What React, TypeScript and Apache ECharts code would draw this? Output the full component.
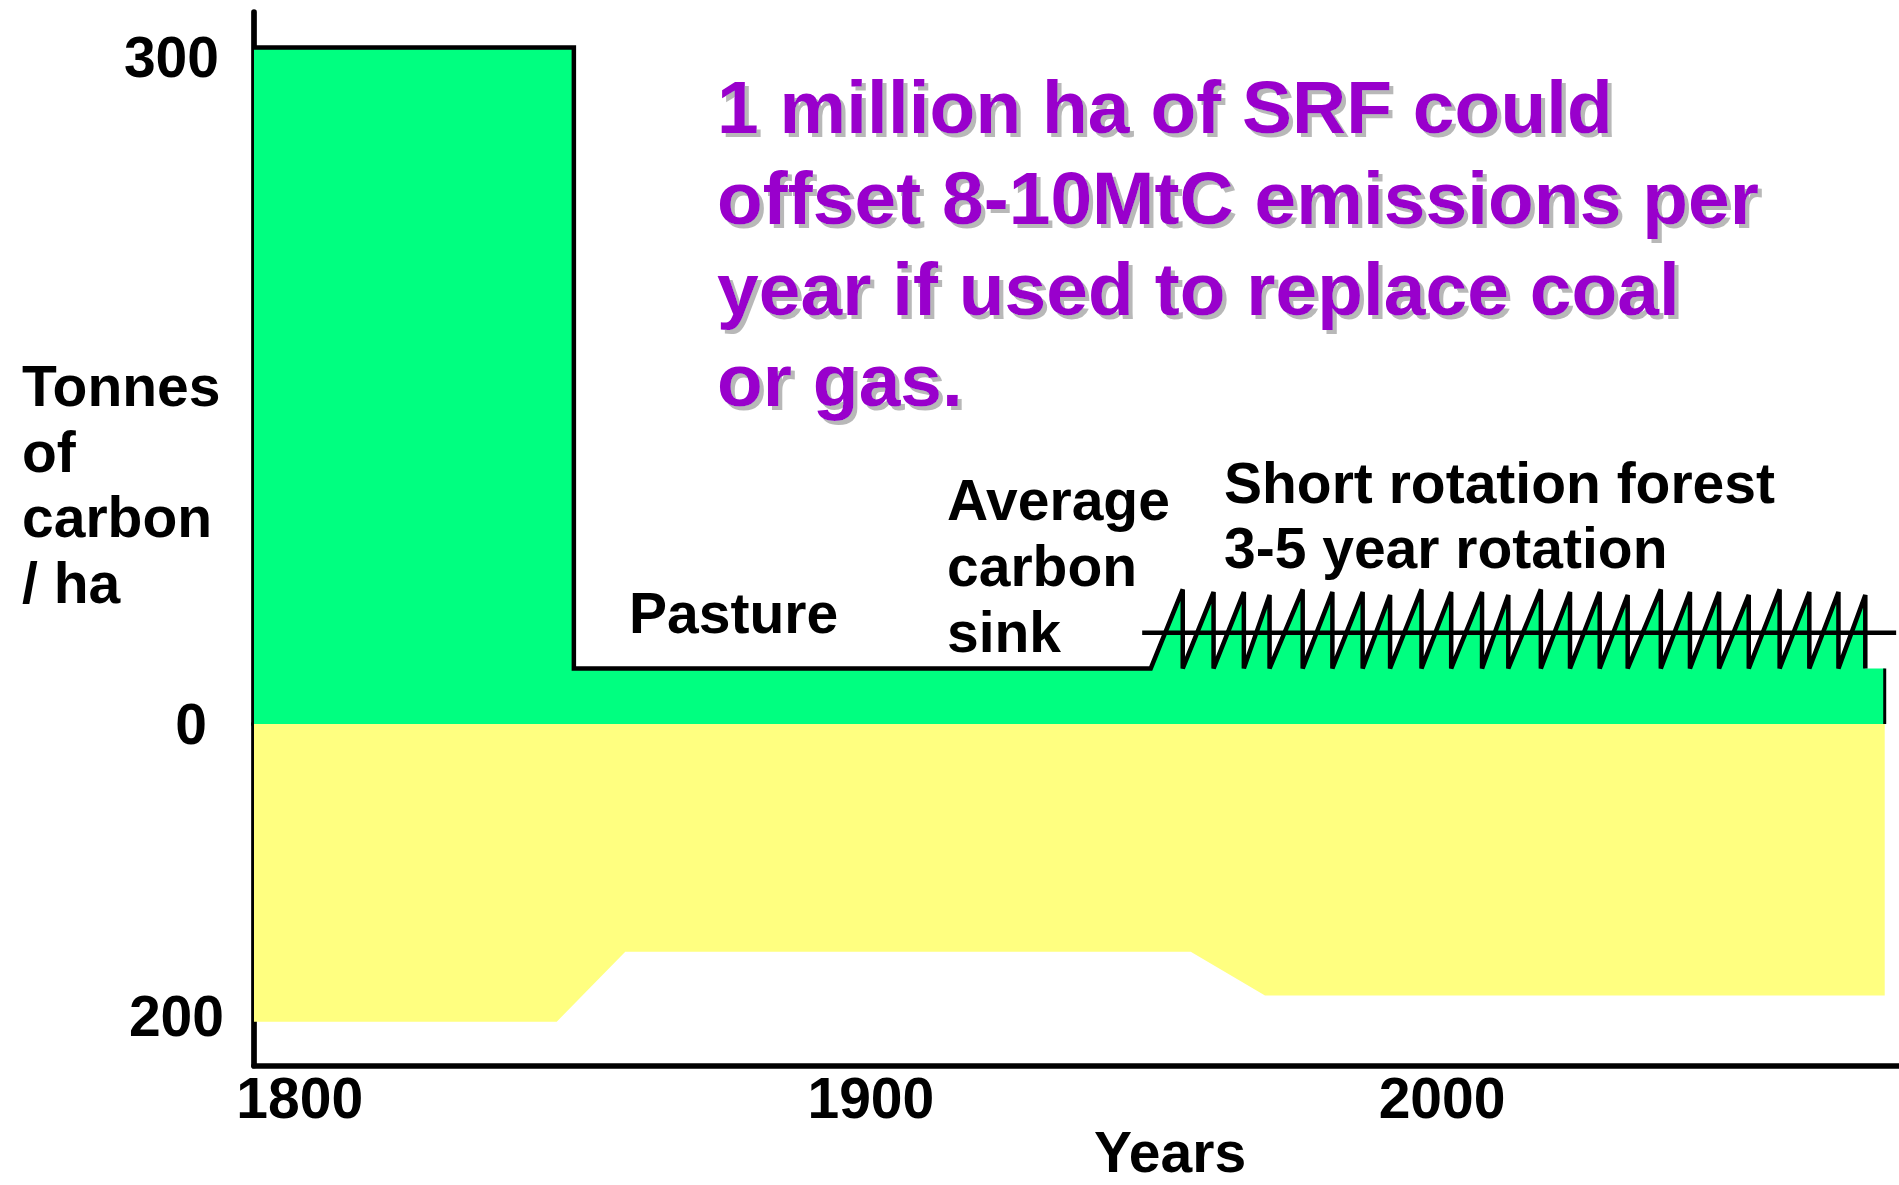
import React, { useEffect, useRef } from "react";
import * as echarts from "echarts";

// ---------- data ----------
// Above-ground carbon (tonnes C / ha) — indigenous forest, then pasture
const landUseYears = [1792, 1848, 1848, 1949];
const landUseValues = [304, 304, 25, 25];

// Short rotation forest: peak of each 3-5 year rotation, then harvest to stump level
const rotationPeakYears = [
  1954.6, 1960.0, 1965.3, 1969.8, 1975.6, 1980.8, 1986.1, 1990.9, 1996.4, 2001.6, 2007.0, 2011.6,
  2017.3, 2022.4, 2027.6, 2032.5, 2038.3, 2043.4, 2048.5, 2053.7, 2059.1, 2064.3, 2069.4, 2074.1,
];
const rotationPeakValues = [
  60.5, 59.3, 59.3, 58, 60.5, 59.3, 59.3, 58, 60.5, 59.3, 59.3, 58,
  60.5, 59.3, 59.3, 58, 60.5, 59.3, 59.3, 58, 60.5, 59.3, 59.3, 58,
];
const rotationHarvestValue = 25;
const standEndYear = 2077.5;

// Average carbon sink of the rotation
const averageSinkYears = [1947.5, 2079.5];
const averageSinkValue = 41;

// Soil carbon (tonnes C / ha, drawn downward)
const soilYears = [1792, 1845, 1857, 1956, 1969, 2077.5];
const soilValues = [204, 204, 156, 156, 186, 186];

// Axis ticks
const yearTicks = [1800, 1900, 2000];
const vegetationTicks = [0, 300];
const soilTicks = [200];

// ---------- derived series ----------
const outline: number[][] = landUseYears.map((y, i) => [y, landUseValues[i]]);
rotationPeakYears.forEach((yr, i) => {
  outline.push([yr, rotationPeakValues[i]]);
  outline.push([yr, rotationHarvestValue]);
});
const greenArea = [...outline, [standEndYear, rotationHarvestValue]];
const soilData = soilYears.map((y, i) => [y, soilValues[i]]);

const FONT = '"Liberation Sans", Arial, Helvetica, sans-serif';
const GREEN = "#00FF80";
const YELLOW = "#FFFF80";
const PURPLE = "#9900CC";

export default function App() {
  const ref = useRef<HTMLDivElement>(null);

  useEffect(() => {
    if (!ref.current) return;
    const chart = echarts.init(ref.current, null, { renderer: "svg" });
    const blackText = { fill: "#000", font: `bold 57px ${FONT}` };
    const option: any = {
      animation: false,
      backgroundColor: "#ffffff",
      grid: [
        { left: 254, right: 0, top: 12, height: 712 },
        { left: 254, right: 0, top: 724, height: 341.5 },
      ],
      xAxis: [
        { type: "value", gridIndex: 0, min: 1792, max: 2080, show: false },
        {
          type: "value",
          gridIndex: 1,
          min: 1792,
          max: 2080,
          axisLine: { show: true, onZero: false, lineStyle: { color: "#000", width: 5.7 } },
          axisTick: { show: false },
          splitLine: { show: false },
          axisLabel: {
            customValues: yearTicks,
            formatter: (v: number) => String(v),
            color: "#000",
            fontFamily: FONT,
            fontWeight: "bold",
            fontSize: 57,
            margin: 4,
          },
        },
      ],
      yAxis: [
        {
          type: "value",
          gridIndex: 0,
          min: 0,
          max: 320,
          axisLine: { show: true, onZero: false, lineStyle: { color: "#000", width: 5.7 } },
          axisTick: { show: false },
          splitLine: { show: false },
          axisLabel: {
            customValues: vegetationTicks,
            margin: 35,
            formatter: (v: number) => (v === 0 ? `{z|${v}}` : `{t|${v}}`),
            rich: {
              z: { color: "#000", fontFamily: FONT, fontWeight: "bold", fontSize: 57, padding: [0, 12, 0, 0] },
              t: { color: "#000", fontFamily: FONT, fontWeight: "bold", fontSize: 57 },
            },
          },
        },
        {
          type: "value",
          gridIndex: 1,
          min: 0,
          max: 234,
          inverse: true,
          axisLine: { show: true, onZero: false, lineStyle: { color: "#000", width: 5.7 } },
          axisTick: { show: false },
          splitLine: { show: false },
          axisLabel: {
            customValues: soilTicks,
            formatter: (v: number) => String(v),
            margin: 30,
            color: "#000",
            fontFamily: FONT,
            fontWeight: "bold",
            fontSize: 57,
          },
        },
      ],
      series: [
        {
          name: "Vegetation carbon",
          type: "line",
          xAxisIndex: 0,
          yAxisIndex: 0,
          data: greenArea,
          symbol: "none",
          lineStyle: { width: 0 },
          areaStyle: { color: GREEN, opacity: 1 },
          z: 1,
        },
        {
          name: "Outline",
          type: "line",
          xAxisIndex: 0,
          yAxisIndex: 0,
          data: outline,
          symbol: "none",
          lineStyle: { color: "#000", width: 4.5, join: "miter" },
          z: 3,
        },
        {
          name: "Stand edge",
          type: "line",
          xAxisIndex: 0,
          yAxisIndex: 0,
          data: [
            [standEndYear, 0],
            [standEndYear, rotationHarvestValue],
          ],
          symbol: "none",
          lineStyle: { color: "#000", width: 3 },
          z: 3,
        },
        {
          name: "Average carbon sink",
          type: "line",
          xAxisIndex: 0,
          yAxisIndex: 0,
          data: averageSinkYears.map((y) => [y, averageSinkValue]),
          symbol: "none",
          lineStyle: { color: "#000", width: 4.5 },
          z: 4,
        },
        {
          name: "Soil carbon",
          type: "line",
          xAxisIndex: 1,
          yAxisIndex: 1,
          data: soilData,
          symbol: "none",
          lineStyle: { width: 0 },
          areaStyle: { color: YELLOW, opacity: 1 },
          z: 1,
        },
      ],
      graphic: [
        { type: "text", left: 22, top: 353, style: { ...blackText, text: "Tonnes\nof\ncarbon\n/ ha", lineHeight: 65.7 } },
        { type: "text", x: 257, y: 194, style: { ...blackText, text: "Indigenous", verticalAlign: "middle" } },
        { type: "text", x: 257, y: 327, style: { ...blackText, text: "forest", verticalAlign: "middle" } },
        { type: "text", x: 629, y: 613, style: { ...blackText, text: "Pasture", verticalAlign: "middle" } },
        { type: "text", left: 947, top: 467, style: { ...blackText, text: "Average\ncarbon\nsink", lineHeight: 66 } },
        { type: "text", left: 1224, top: 450.5, style: { ...blackText, text: "Short rotation forest\n3-5 year rotation", lineHeight: 65 } },
        { type: "text", x: 736, y: 833, style: { ...blackText, text: "Soil carbon", verticalAlign: "middle" } },
        { type: "text", x: 1094, y: 1152, style: { ...blackText, text: "Years", verticalAlign: "middle" } },
        {
          type: "text",
          left: 717,
          top: 61.5,
          style: {
            text: "1 million ha of SRF could\noffset 8-10MtC emissions per\nyear if used to replace coal\nor gas.",
            fill: PURPLE,
            font: `bold 75px ${FONT}`,
            lineHeight: 91,
            textShadowColor: "#b8b8b8",
            textShadowOffsetX: 4,
            textShadowOffsetY: 4,
            textShadowBlur: 1,
          },
        },
      ],
    };
    chart.setOption(option);
    return () => chart.dispose();
  }, []);

  return (
    <div
      ref={ref}
      style={{ position: "absolute", left: 0, top: 0, width: 1899, height: 1185 }}
    />
  );
}
